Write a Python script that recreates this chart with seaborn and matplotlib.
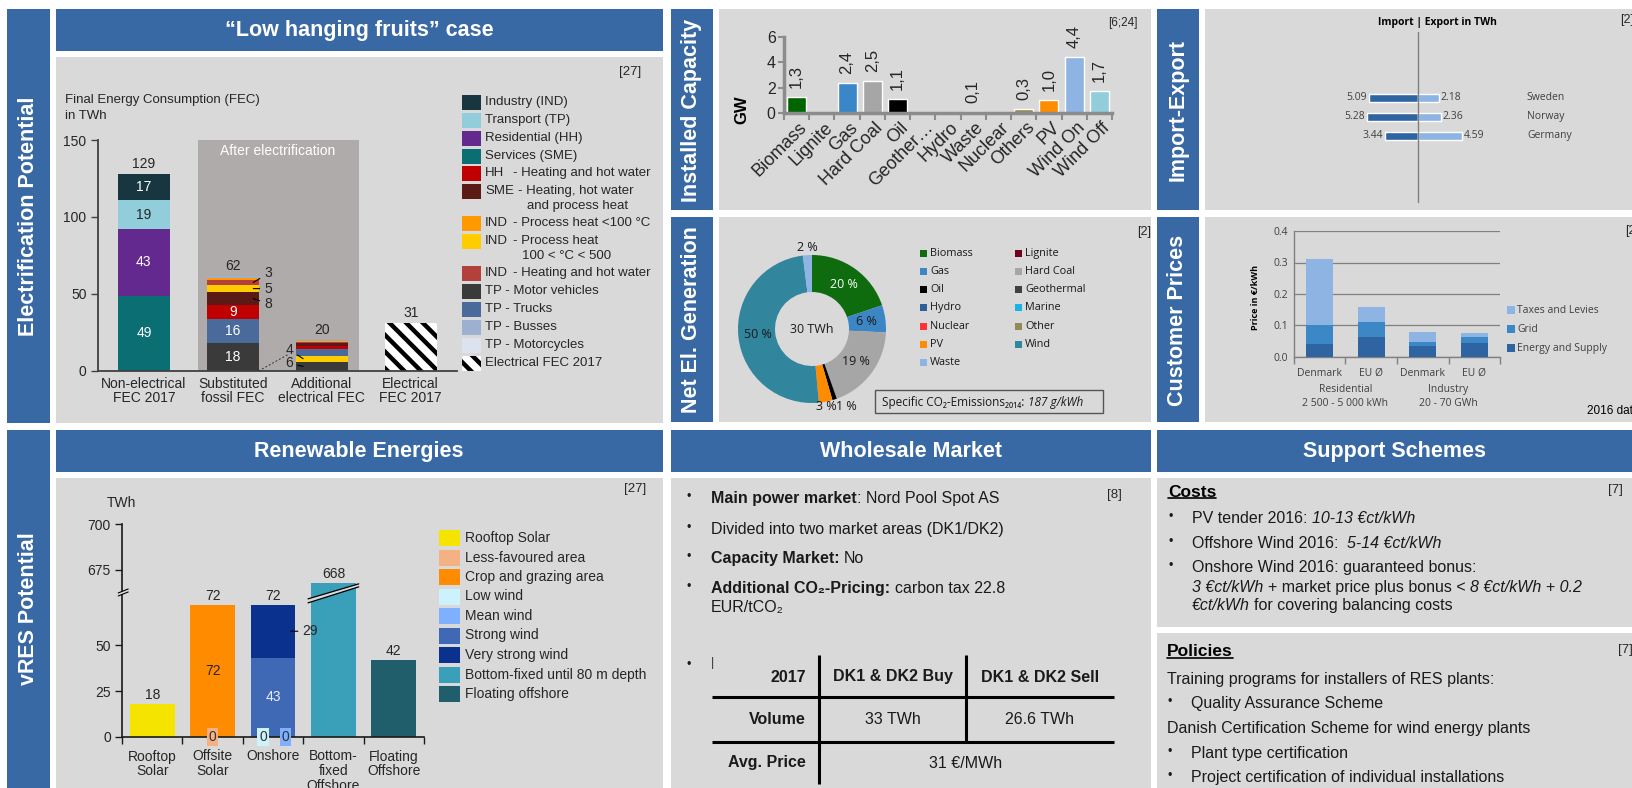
import numpy as np
import pandas as pd
import matplotlib
matplotlib.use("Agg")
import matplotlib.pyplot as plt
import seaborn as sns
from matplotlib.patches import Rectangle, Polygon

# ============================ DATA ============================
# --- Electrification potential ("Low hanging fruits" case), TWh
fec_categories = ["Non-electrical\nFEC 2017", "Substituted\nfossil FEC",
                  "Additional\nelectrical FEC", "Electrical\nFEC 2017"]
fec_totals = [129, 62, 20, 31]
fec_industry = [17, 0, 0, 0]
fec_transport = [19, 0, 0, 0]
fec_residential = [43, 0, 0, 0]
fec_services = [49, 0, 0, 0]
fec_hh_heat = [0, 9, 2, 0]
fec_sme_heat = [0, 8, 2, 0]
fec_ind_heat_low = [0, 1.5, 0.7, 0]
fec_ind_heat_mid = [0, 5, 4, 0]
fec_ind_hot_water = [0, 3, 0.7, 0]
fec_tp_motor = [0, 18, 6, 0]
fec_tp_trucks = [0, 16, 4, 0]
fec_tp_busses = [0, 1.5, 0.6, 0]
fec_tp_motorcycles = [0, 0, 0, 0]
fec_electrical = [0, 0, 0, 31]
fec_legend_labels = ["Industry (IND)", "Transport (TP)", "Residential (HH)", "Services (SME)",
                     "HH\t- Heating and hot water", "SME\t- Heating, hot water\nand process heat",
                     "IND\t- Process heat <100 °C", "IND\t- Process heat\n100 < °C < 500",
                     "IND\t- Heating and hot water", "TP - Motor vehicles", "TP - Trucks",
                     "TP - Busses", "TP - Motorcycles", "Electrical FEC 2017"]

# --- Installed capacity, GW
cap_tech = ["Biomass", "Lignite", "Gas", "Hard Coal", "Oil", "Geother\u2026", "Hydro",
            "Waste", "Nuclear", "Others", "PV", "Wind On", "Wind Off"]
cap_gw = [1.3, 0, 2.4, 2.5, 1.1, 0, 0, 0.1, 0, 0.3, 1.0, 4.4, 1.7]

# --- Import / export, TWh
ie_countries = ["Sweden", "Norway", "Germany"]
ie_import = [5.09, 5.28, 3.44]
ie_export = [2.18, 2.36, 4.59]

# --- Net electricity generation, %
gen_sources = ["Biomass", "Gas", "Hard Coal", "Oil", "PV", "Wind", "Waste"]
gen_share = [20, 6, 19, 1, 3, 50, 2]
gen_total = "30 TWh"
gen_legend = ["Biomass", "Lignite", "Gas", "Hard Coal", "Oil", "Geothermal", "Hydro",
              "Marine", "Nuclear", "Other", "PV", "Wind", "Waste"]

# --- Customer prices, EUR/kWh (2016)
price_cats = ["Denmark", "EU \u00d8", "Denmark", "EU \u00d8"]
price_groups = ["Residential\n2 500 - 5 000 kWh", "Industry\n20 - 70 GWh"]
price_energy = [0.040, 0.062, 0.034, 0.045]
price_grid = [0.060, 0.048, 0.015, 0.018]
price_taxes = [0.210, 0.048, 0.031, 0.012]
price_legend = ["Taxes and Levies", "Grid", "Energy and Supply"]

# --- vRES potential, TWh
vres_categories = ["Rooftop\nSolar", "Offsite\nSolar", "Onshore", "Bottom-\nfixed\nOffshore",
                   "Floating\nOffshore"]
vres_totals = [18, 72, 72, 668, 42]
vres_rooftop = [18, 0, 0, 0, 0]
vres_less_favoured = [0, 0, 0, 0, 0]
vres_crop = [0, 72, 0, 0, 0]
vres_low_wind = [0, 0, 0, 0, 0]
vres_mean_wind = [0, 0, 0, 0, 0]
vres_strong_wind = [0, 0, 43, 0, 0]
vres_very_strong = [0, 0, 29, 0, 0]
vres_bottom_fixed = [0, 0, 0, 668, 0]
vres_floating = [0, 0, 0, 0, 42]
vres_legend = ["Rooftop Solar", "Less-favoured area", "Crop and grazing area", "Low wind",
               "Mean wind", "Strong wind", "Very strong wind", "Bottom-fixed until 80 m depth",
               "Floating offshore"]

# --- Wholesale market
wm_header = ["2017", "DK1 & DK2 Buy", "DK1 & DK2 Sell"]
wm_rows = ["Volume", "Avg. Price"]
wm_volume = ["33 TWh", "26.6 TWh"]
wm_price = "31 \u20ac/MWh"

# ============================ STYLE ============================
W, H = 1633, 788
BLUE = "#3869A5"
PANEL = "#D9D9D9"
TXT = "#262626"
FONT = ["Liberation Sans", "DejaVu Sans"]
SEG = ["Open Sans", "DejaVu Sans"]

sns.set_theme(style="white")
plt.rcParams["font.family"] = FONT
plt.rcParams["hatch.linewidth"] = 3.2
plt.rcParams["axes.unicode_minus"] = False

fig = plt.figure(figsize=(W / 100, H / 100), dpi=100, facecolor="white")
bg = fig.add_axes([0, 0, 1, 1], zorder=0)
bg.set_xlim(0, W); bg.set_ylim(H, 0); bg.axis("off")
ov = fig.add_axes([0, 0, 1, 1], zorder=10)
ov.set_xlim(0, W); ov.set_ylim(H, 0); ov.axis("off")
R = fig.canvas.get_renderer()


def rect(x0, y0, x1, y1, color):
    bg.add_patch(Rectangle((x0, y0), x1 - x0, y1 - y0, facecolor=color, edgecolor="none"))


def T(x, y, s, size=10, color=TXT, ha="left", va="center", family=FONT, **kw):
    return ov.text(x, y, s, fontsize=size, color=color, ha=ha, va=va, family=family, **kw)


def pax(x0, y0, x1, y1):
    a = fig.add_axes([x0 / W, 1 - y1 / H, (x1 - x0) / W, (y1 - y0) / H], zorder=2)
    a.patch.set_alpha(0)
    return a


def to_px(ax, x, y):
    d = ax.transData.transform((x, y))
    return d[0], H - d[1]


def rich(x, y, pieces, size=11.5, color="#1a1a1a", family=FONT):
    """draw text pieces of mixed weight/style on one line; y is the line centre"""
    em = size * 100 / 72
    base = y + 0.36 * em
    sp = 0.278 * em
    cx = x
    for txt, w, st in pieces:
        lead = len(txt) - len(txt.lstrip(" "))
        trail = len(txt) - len(txt.rstrip(" "))
        core = txt.strip(" ")
        cx += lead * sp
        t = ov.text(cx, base, core, fontsize=size, fontweight=w, fontstyle=st, color=color,
                    family=family, ha="left", va="baseline")
        cx += t.get_window_extent(renderer=R).width + trail * sp
    return cx


# ---------------------- panel frames ----------------------
for (x0, y0, x1, y1) in [(7, 9, 50, 423), (7, 430, 50, 788), (671, 9, 713, 210), (671, 217, 713, 422),
                         (1157, 9, 1199, 210), (1157, 217, 1199, 422),
                         (56, 9, 663, 51), (56, 430, 663, 472), (671, 430, 1151, 472),
                         (1157, 430, W, 472)]:
    rect(x0, y0, x1, y1, BLUE)
for (x0, y0, x1, y1) in [(56, 57, 663, 423), (719, 9, 1151, 210), (719, 217, 1151, 422),
                         (1205, 9, W, 210), (1205, 217, W, 422), (56, 478, 663, 788),
                         (671, 478, 1151, 788), (1157, 478, W, 627), (1157, 633, W, 788)]:
    rect(x0, y0, x1, y1, PANEL)

vt = dict(size=15.5, color="white", ha="center", va="center", rotation=90, fontweight="bold")
T(28.5, 216, "Electrification Potential", **vt)
T(28.5, 609, "vRES Potential", **vt)
T(692, 110, "Installed Capacity", **vt)
T(692, 320, "Net El. Generation", **vt)
T(1178, 110, "Import-Export", **vt)
T(1178, 320, "Customer Prices", **vt)
ht = dict(size=15.5, color="white", ha="center", va="center", fontweight="bold")
T(359, 30, "\u201cLow hanging fruits\u201d case", **ht)
T(359, 451, "Renewable Energies", **ht)
T(911, 451, "Wholesale Market", **ht)
T(1395, 451, "Support Schemes", **ht)

# ================= 1. Electrification potential =================
fec_values = {"ind": fec_industry, "tp": fec_transport, "hh": fec_residential, "sme": fec_services,
              "hh_heat": fec_hh_heat, "sme_heat": fec_sme_heat, "ind_low": fec_ind_heat_low,
              "ind_mid": fec_ind_heat_mid, "ind_hw": fec_ind_hot_water, "tp_motor": fec_tp_motor,
              "tp_trucks": fec_tp_trucks, "tp_busses": fec_tp_busses, "tp_moto": fec_tp_motorcycles,
              "elec": fec_electrical}
fec_keys = list(fec_values.keys())
fec_colors = {"ind": "#17363F", "tp": "#92CDDC", "hh": "#63298F", "sme": "#0A6E73",
              "hh_heat": "#C00000", "sme_heat": "#5B1A16", "ind_low": "#FF9900", "ind_mid": "#FFCC00",
              "ind_hw": "#B3403A", "tp_motor": "#3A3A3A", "tp_trucks": "#4A6A9C",
              "tp_busses": "#9DB0D2", "tp_moto": "#DCE3EE", "elec": "white"}
fec_order = [["sme", "hh", "tp", "ind"],
             ["tp_motor", "tp_trucks", "hh_heat", "sme_heat", "ind_mid", "ind_hw", "ind_low", "tp_busses", "tp_moto"],
             ["tp_motor", "ind_mid", "tp_trucks", "hh_heat", "sme_heat", "ind_hw", "tp_busses", "ind_low", "tp_moto"],
             ["elec"]]

ax1 = pax(97.6, 140, 457, 371)
ax1.set_xlim(-0.52, 3.52); ax1.set_ylim(0, 150)
ax1.add_patch(Rectangle((0.61, 0), 1.81, 150, facecolor="#AFABAB", edgecolor="none", zorder=0))
bw1 = 0.58
seg = {}
for b, order in enumerate(fec_order):
    base = 0
    for k in order:
        v = fec_values[k][b]
        if v <= 0:
            continue
        if k == "elec":
            ax1.bar(b, v, bottom=base, width=bw1, facecolor="white", edgecolor="black",
                    hatch="\\\\", linewidth=0, zorder=2)
        else:
            ax1.bar(b, v, bottom=base, width=bw1, color=fec_colors[k], edgecolor="none", zorder=2)
        seg[(b, k)] = (base + v / 2, v)
        base += v
    ax1.annotate(str(fec_totals[b]), (b, base), xytext=(0, 3), textcoords="offset pixels",
                 ha="center", va="bottom", fontsize=10, color=TXT)
inside = {(0, "sme"): "white", (0, "hh"): "white", (0, "tp"): TXT, (0, "ind"): "white",
          (1, "tp_motor"): "white", (1, "tp_trucks"): "white", (1, "hh_heat"): "white"}
for (b, k), c in inside.items():
    m, v = seg[(b, k)]
    ax1.text(b, m, f"{v:g}", ha="center", va="center", fontsize=10, color=c, zorder=3)
lead = dict(arrowstyle="-", lw=0.8, color="black", shrinkA=1, shrinkB=0)
for k, dy in [("ind_hw", 9), ("ind_mid", 0), ("sme_heat", -5)]:
    m, v = seg[(1, k)]
    ax1.annotate(f"{v:g}", (1 + bw1 / 2 - 0.06, m), xytext=(11, dy), textcoords="offset pixels",
                 ha="left", va="center", fontsize=10, color=TXT, arrowprops=lead, zorder=4)
for k, dy in [("ind_mid", 9), ("tp_motor", 3)]:
    m, v = seg[(2, k)]
    ax1.annotate(f"{v:g}", (2 - bw1 / 2 + 0.08, m), xytext=(-10, dy), textcoords="offset pixels",
                 ha="right", va="center", fontsize=10, color=TXT, arrowprops=lead, zorder=4)
ax1.plot([1 + bw1 / 2, 2 - bw1 / 2 - 0.08], [0, 11], ls=(0, (2, 2)), color="#333333", lw=0.7, zorder=3)
ax1.set_yticks([0, 50, 100, 150])
ax1.set_xticks(range(4))
ax1.set_xticklabels(fec_categories, fontsize=10, color=TXT, linespacing=1.05)
ax1.tick_params(axis="y", left=True, direction="out", length=5, width=1, color="#404040",
                labelsize=10, labelcolor=TXT, pad=3)
ax1.tick_params(axis="x", length=0, pad=4)
for s in ["top", "right"]:
    ax1.spines[s].set_visible(False)
for s in ["left", "bottom"]:
    ax1.spines[s].set_color("#404040"); ax1.spines[s].set_linewidth(1.3)
ax1.grid(False)
T(278, 151, "After electrification", size=10, color="white", ha="center")
T(65, 100, "Final Energy Consumption (FEC)", size=9.5)
T(65, 116, "in TWh", size=9.5)
T(630, 72, "[27]", size=9.5, ha="center")
# legend
leg_y = [102, 120, 138, 156, 173, 191, 223, 241, 273, 291, 309, 327, 345, 363]
for k, lab, y in zip(fec_keys, fec_legend_labels, leg_y):
    if k == "elec":
        ov.add_patch(Rectangle((462, y - 7.5), 19, 15, facecolor="white", edgecolor="black",
                               hatch="\\\\", linewidth=0))
    else:
        ov.add_patch(Rectangle((462, y - 7.5), 19, 15, facecolor=fec_colors[k], edgecolor="none"))
    if "\t" in lab:
        pre, rest = lab.split("\t")
        tp = T(485, y, pre, size=9.5)
        pw = tp.get_window_extent(renderer=R).width
        lines = rest.split("\n")
        x2 = max(513, 485 + pw + 4)
        T(x2, y, lines[0], size=9.5)
        if len(lines) > 1:
            T(x2 + 9, y + 15, lines[1], size=9.5)
    else:
        T(485, y, lab, size=9.5)

# ================= 2. Installed capacity =================
ax2 = pax(784, 37, 1112, 113)
cap_colors = ["#006400", "#6B0A1E", "#3A86C8", "#A6A6A6", "#000000", "#404040", "#2F5F99",
              "#9DC3E6", "#FF3333", "#948A54", "#FF8C00", "#8DB4E2", "#92CDDC"]
sns.barplot(x=cap_tech, y=cap_gw, hue=cap_tech, palette=dict(zip(cap_tech, cap_colors)),
            width=0.75, saturation=1, errorbar=None, legend=False, ax=ax2)
ax2.set_xlim(-0.5, 12.5); ax2.set_ylim(0, 6)
ax2.set_xlabel(""); ax2.set_ylabel("")
for i, v in enumerate(cap_gw):
    if v > 0:
        ax2.annotate(f"{v:.1f}".replace(".", ","), (i, v), xytext=(0, 9), textcoords="offset pixels",
                     rotation=90, ha="center", va="bottom", fontsize=12, color=TXT)
    ax2.annotate(cap_tech[i], (i, 0), xytext=(8, -12), textcoords="offset pixels", rotation=45,
                 ha="right", va="center", rotation_mode="anchor", fontsize=13, color=TXT,
                 annotation_clip=False)
ax2.set_yticks([0, 2, 4, 6])
ax2.set_xticks(np.arange(-0.5, 13, 1))
ax2.set_xticklabels([])
ax2.tick_params(axis="x", bottom=True, length=5, width=1.5, color="#8C8C8C")
ax2.tick_params(axis="y", left=True, length=4, width=1.5, color="#8C8C8C", labelsize=11.5,
                labelcolor=TXT, pad=2)
for s in ["top", "right"]:
    ax2.spines[s].set_visible(False)
for s in ["left", "bottom"]:
    ax2.spines[s].set_color("#8C8C8C"); ax2.spines[s].set_linewidth(2.5)
T(742, 110, "GW", size=12, ha="center", rotation=90, fontweight="bold", color="black")
T(1123, 23, "[6;24]", size=8.5, ha="center")

# ================= 3. Import / export =================
ax3 = pax(1205, 9, W, 210)
sns.barplot(x=[-v for v in ie_import], y=ie_countries, color="#2E64A2", width=0.47,
            saturation=1, errorbar=None, orient="h", ax=ax3)
sns.barplot(x=ie_export, y=ie_countries, color="#8DB4E2", width=0.47,
            saturation=1, errorbar=None, orient="h", ax=ax3)
ax3.set_xlim(-22.19, 22.40); ax3.set_ylim(5.895, -4.684)
ax3.axis("off")
ax3.plot([0, 0], [-3.47, 5.47], color="#7F7F7F", lw=1, zorder=5)
for i, (c, vi, ve) in enumerate(zip(ie_countries, ie_import, ie_export)):
    ax3.annotate(f"{vi:.2f}", (-vi, i), xytext=(-2, 0), textcoords="offset pixels", ha="right",
                 va="center", fontsize=7.5, color="#404040", family=SEG)
    ax3.annotate(f"{ve:.2f}", (ve, i), xytext=(2, 0), textcoords="offset pixels", ha="left",
                 va="center", fontsize=7.5, color="#404040", family=SEG)
    ax3.text(11.35, i, c, ha="left", va="center", fontsize=7.5, color="#404040", family=SEG)
T(1437, 22, "Import | Export in TWh", size=7.5, ha="center", family=SEG, fontweight="bold", color="black")
T(1620, 20, "[2]", size=9)

# ================= 4. Net electricity generation =================
gen_colors = {"Biomass": "#0E6B0E", "Lignite": "#70001E", "Gas": "#3C86C6", "Hard Coal": "#A6A6A6",
              "Oil": "#000000", "Geothermal": "#404040", "Hydro": "#2F5F99", "Marine": "#19B3E6",
              "Nuclear": "#FF3333", "Other": "#948A54", "PV": "#FF8C00", "Wind": "#31859C",
              "Waste": "#8DB4E2"}
cx4, cy4, r4 = 812, 329, 74
ax4 = pax(cx4 - r4, cy4 - r4, cx4 + r4, cy4 + r4)
ax4.pie(gen_share, colors=[gen_colors[s] for s in gen_sources], startangle=90, counterclock=False,
        radius=1, wedgeprops=dict(width=0.5, linewidth=0))
ax4.set_xlim(-1, 1); ax4.set_ylim(-1, 1)
tot = sum(gen_share)
start = 90.0
nudge = {"Oil": (9, 0), "PV": (-1, -2)}
for s, v in zip(gen_sources, gen_share):
    span = v / tot * 360
    mid = np.deg2rad(start - span / 2)
    start -= span
    r = 0.74 if v >= 5 else 1.1
    dx, dy = nudge.get(s, (0, 0))
    x = cx4 + r * r4 * np.cos(mid) + dx
    y = cy4 - r * r4 * np.sin(mid) + dy
    T(x, y, f"{v} %", size=9, ha="center", family=SEG,
      color="white" if s == "Biomass" else "#1a1a1a")
T(cx4, cy4, gen_total, size=9, ha="center", family=SEG, color="#1a1a1a")
for i, lab in enumerate(gen_legend):
    col, row = i % 2, i // 2
    x = 920 + col * 95
    y = 253 + row * 18.3
    ov.add_patch(Rectangle((x, y - 3.5), 7, 7, facecolor=gen_colors[lab], edgecolor="none"))
    T(x + 10, y, lab, size=7.8, family=SEG, color="#1a1a1a")
ov.add_patch(Rectangle((875, 390), 228, 23, facecolor="none", edgecolor="#555555", lw=1))
rich(882, 401.5, [("Specific CO\u2082-Emissions\u2082\u2080\u2081\u2084: ", "normal", "normal"),
                  ("187 g/kWh", "normal", "italic")], size=8.5, family=SEG)
T(1137, 232, "[2]", size=9)

# ================= 5. Customer prices =================
ax5 = pax(1294, 231, 1500, 357)
xp = np.arange(len(price_cats))
b0 = np.zeros(len(price_cats))
price_cols = ["#2E64A2", "#3C87C5", "#8DB4E2"]
for vals, c in zip([price_energy, price_grid, price_taxes], price_cols):
    ax5.bar(xp, vals, bottom=b0, width=0.52, color=c, edgecolor="none", zorder=3)
    b0 = b0 + np.array(vals)
ax5.set_xlim(-0.5, 3.5); ax5.set_ylim(0, 0.4)
ax5.set_yticks([0, 0.1, 0.2, 0.3, 0.4])
ax5.set_yticklabels(["0.0", "0.1", "0.2", "0.3", "0.4"], family=SEG, fontsize=7.5, color="#404040")
ax5.yaxis.grid(True, color="#808080", lw=0.9, zorder=0)
ax5.xaxis.grid(False)
ax5.set_xticks(xp)
ax5.set_xticklabels(price_cats, family=SEG, fontsize=7.5, color="#404040")
ax5.set_xticks(np.arange(-0.5, 4, 1), minor=True)
ax5.tick_params(axis="x", which="major", length=0, pad=8)
ax5.tick_params(axis="x", which="minor", bottom=True, length=5, width=1, color="#808080")
ax5.tick_params(axis="y", length=0, pad=4)
for s in ["top", "right"]:
    ax5.spines[s].set_visible(False)
for s in ["left", "bottom"]:
    ax5.spines[s].set_color("#808080"); ax5.spines[s].set_linewidth(1)
for g, lab in enumerate(price_groups):
    ax5.text(2 * g + 0.5, -0.313, lab, transform=ax5.get_xaxis_transform(), ha="center",
             va="center", family=SEG, fontsize=7.5, color="#404040", linespacing=1.45)
T(1256, 297, "Price in \u20ac/kWh", size=6.5, ha="center", rotation=90, fontweight="bold",
  color="black", family=SEG)
for lab, c, y in zip(price_legend, price_cols[::-1], [310, 329, 348]):
    ov.add_patch(Rectangle((1507, y - 4), 8, 8, facecolor=c, edgecolor="none"))
    T(1517, y, lab, size=7.5, family=SEG, color="#404040")
T(1625, 231, "[2]", size=9)
T(1587, 411, "2016 data", size=8.5, color="black")

# ================= 6. vRES potential =================
LOW_TOP = 78.3        # upper end of the lower (0..) scale segment
UP_BASE, UP_POS = 675, 90.8   # value 675 sits here on the broken axis


def ypos(v):
    return v if v <= LOW_TOP else v - UP_BASE + UP_POS


vres_values = {"Rooftop Solar": vres_rooftop, "Less-favoured area": vres_less_favoured,
               "Crop and grazing area": vres_crop, "Low wind": vres_low_wind,
               "Mean wind": vres_mean_wind, "Strong wind": vres_strong_wind,
               "Very strong wind": vres_very_strong, "Bottom-fixed until 80 m depth": vres_bottom_fixed,
               "Floating offshore": vres_floating}
vres_colors = {"Rooftop Solar": "#F5E400", "Less-favoured area": "#F4B183",
               "Crop and grazing area": "#FF8C00", "Low wind": "#CCF2FC", "Mean wind": "#7FB0FF",
               "Strong wind": "#3F69B5", "Very strong wind": "#0B318E",
               "Bottom-fixed until 80 m depth": "#3A9FB8", "Floating offshore": "#215E6B"}
ax6 = pax(122, 524, 424, 737)
ax6.set_xlim(-0.48, 4.49); ax6.set_ylim(0, ypos(700))
bw6 = 0.74
bott = np.zeros(5)
vseg = {}
for lab in vres_legend:
    vals = np.array(vres_values[lab], float)
    for i, v in enumerate(vals):
        if v <= 0:
            continue
        lo, hi = ypos(bott[i]), ypos(bott[i] + v)
        ax6.bar(i, hi - lo, bottom=lo, width=bw6, color=vres_colors[lab], edgecolor="none", zorder=2)
        vseg[(i, lab)] = ((lo + hi) / 2, v)
    bott += vals
for i, t in enumerate(vres_totals):
    ax6.annotate(str(t), (i, ypos(t)), xytext=(0, 2), textcoords="offset pixels", ha="center",
                 va="bottom", fontsize=10, color=TXT)
m, v = vseg[(1, "Crop and grazing area")]
ax6.text(1, m, f"{v:g}", ha="center", va="center", fontsize=10, color=TXT, zorder=3)
m, v = vseg[(2, "Strong wind")]
ax6.text(2, m, f"{v:g}", ha="center", va="center", fontsize=10, color="#E8EEF8", zorder=3)
m, v = vseg[(2, "Very strong wind")]
ax6.annotate(f"{v:g}", (2 + bw6 / 2 - 0.08, m), xytext=(12, 0), textcoords="offset pixels",
             ha="left", va="center", fontsize=10, color=TXT, arrowprops=lead, zorder=4)
for (i, dx, lab) in [(1, 0.0, "Less-favoured area"), (2, -0.165, "Low wind"), (2, 0.2, "Mean wind")]:
    ax6.text(i + dx, 0, f"{vres_values[lab][i]:g}", ha="center", va="center", fontsize=10, color="#333333",
             zorder=5, bbox=dict(facecolor=vres_colors[lab], edgecolor="none", pad=1.2))
yt = [0, 25, 50, 675, 700]
ax6.set_yticks([ypos(t) for t in yt])
ax6.set_yticklabels([str(t) for t in yt], fontsize=10, color=TXT)
ax6.set_xticks(range(5))
ax6.set_xticklabels(vres_categories, fontsize=10, color=TXT, linespacing=1.05)
ax6.set_xticks(np.arange(-0.5, 5, 1), minor=True)
ax6.tick_params(axis="x", which="major", length=0, pad=9)
ax6.tick_params(axis="x", which="minor", bottom=True, length=5, width=1, color="#1a1a1a")
ax6.tick_params(axis="y", left=True, length=5, width=1, color="#1a1a1a", pad=3)
for s in ["top", "right"]:
    ax6.spines[s].set_visible(False)
for s in ["left", "bottom"]:
    ax6.spines[s].set_color("#1a1a1a"); ax6.spines[s].set_linewidth(1.2)
# axis break marks
bx, by = to_px(ax6, -0.48, LOW_TOP)
ov.add_patch(Polygon([(bx - 5, by + 3), (bx + 5, by - 1), (bx + 5, by - 4), (bx - 5, by)],
                     facecolor=PANEL, edgecolor="none"))
ov.plot([bx - 5, bx + 5], [by + 3, by - 1], color="black", lw=0.8)
ov.plot([bx - 5, bx + 5], [by, by - 4], color="black", lw=0.8)
lx, ty = to_px(ax6, 3 - bw6 / 2, ypos(668))
rx, _ = to_px(ax6, 3 + bw6 / 2, ypos(668))
L, Rr = lx - 3, rx + 3
ov.add_patch(Polygon([(L, ty + 20), (Rr, ty + 4), (Rr, ty + 1), (L, ty + 16)],
                     facecolor=PANEL, edgecolor="none"))
ov.plot([L, Rr], [ty + 20, ty + 4], color="black", lw=0.9)
ov.plot([L, Rr], [ty + 16, ty + 1], color="black", lw=0.9)
T(121, 503, "TWh", size=10, ha="center")
T(635, 489, "[27]", size=9.5, ha="center")
for j, lab in enumerate(vres_legend):
    y = 538 + j * 19.5
    ov.add_patch(Rectangle((439, y - 8), 21, 16, facecolor=vres_colors[lab], edgecolor="none"))
    T(465, y, lab, size=10)

# ================= 7. Wholesale market =================
wm_lines = [
    (497, [("Main power market", "bold", "normal"), (": Nord Pool Spot AS", "normal", "normal")]),
    (528, [("Divided into two market areas (DK1/DK2)", "normal", "normal")]),
    (557, [("Capacity Market:", "bold", "normal"), (" No", "normal", "normal")]),
    (587, [("Additional CO\u2082-Pricing:", "bold", "normal"), (" carbon tax 22.8", "normal", "normal")]),
]
for y, pieces in wm_lines:
    T(689, y, "\u2022", size=9, ha="center", color="#1a1a1a")
    rich(711, y, pieces)
rich(711, 606, [("EUR/tCO\u2082", "normal", "normal")])
T(689, 665, "\u2022", size=9, ha="center", color="#1a1a1a")
T(711, 663, "|", size=9, color="#333333")
T(1114, 495, "[8]", size=9.5, ha="center")
tl = dict(color="black", lw=2.2, solid_capstyle="butt")
ov.plot([819, 819], [655, 784], **tl)
ov.plot([966, 966], [655, 697], **tl)
ov.plot([966, 966], [697, 742], **tl)
ov.plot([712, 1114], [697, 697], **tl)
ov.plot([712, 1114], [742, 742], **tl)
T(806, 677, wm_header[0], size=11.5, ha="right", fontweight="bold", color="#1a1a1a")
T(893, 677, wm_header[1], size=11.5, ha="center", fontweight="bold", color="#1a1a1a")
T(1040, 677, wm_header[2], size=11.5, ha="center", fontweight="bold", color="#1a1a1a")
T(806, 720, wm_rows[0], size=11.5, ha="right", fontweight="bold", color="#1a1a1a")
T(893, 720, wm_volume[0], size=11.5, ha="center", color="#1a1a1a")
T(1040, 720, wm_volume[1], size=11.5, ha="center", color="#1a1a1a")
T(806, 763, wm_rows[1], size=11.5, ha="right", fontweight="bold", color="#1a1a1a")
T(966, 763, wm_price, size=11.5, ha="center", color="#1a1a1a")

# ================= 8. Support schemes =================
def heading(x, y, s):
    t = T(x, y, s, size=12.5, fontweight="bold", color="black")
    bb = t.get_window_extent(renderer=R)
    ov.plot([x, x + bb.width], [H - bb.y0 - 2, H - bb.y0 - 2], color="black", lw=1.2)


heading(1168, 492, "Costs")
T(1615, 490, "[7]", size=9.5, ha="center")
cost_lines = [
    (517, True, [("PV tender 2016: ", "normal", "normal"), ("10-13 \u20acct/kWh", "normal", "italic")]),
    (542, True, [("Offshore Wind 2016:  ", "normal", "normal"), ("5-14 \u20acct/kWh", "normal", "italic")]),
    (566, True, [("Onshore Wind 2016: guaranteed bonus:", "normal", "normal")]),
    (586, False, [("3 \u20acct/kWh", "normal", "italic"), (" + market price plus bonus < ", "normal", "normal"),
                  ("8 \u20acct/kWh + 0.2", "normal", "italic")]),
    (604, False, [("\u20acct/kWh", "normal", "italic"), (" for covering balancing costs", "normal", "normal")]),
]
for y, bul, pieces in cost_lines:
    if bul:
        T(1171, y, "\u2022", size=9, ha="center", color="#1a1a1a")
    rich(1192, y, pieces)
heading(1167, 652, "Policies")
T(1625, 650, "[7]", size=9.5, ha="center")
pol_lines = [
    (678, False, "Training programs for installers of RES plants:"),
    (702, True, "Quality Assurance Scheme"),
    (727, False, "Danish Certification Scheme for wind energy plants"),
    (752, True, "Plant type certification"),
    (776, True, "Project certification of individual installations"),
]
for y, bul, s in pol_lines:
    if bul:
        T(1170, y, "\u2022", size=9, ha="center", color="#1a1a1a")
        rich(1191, y, [(s, "normal", "normal")])
    else:
        rich(1167, y, [(s, "normal", "normal")])

fig.savefig("out.png", dpi=100, facecolor="white")
